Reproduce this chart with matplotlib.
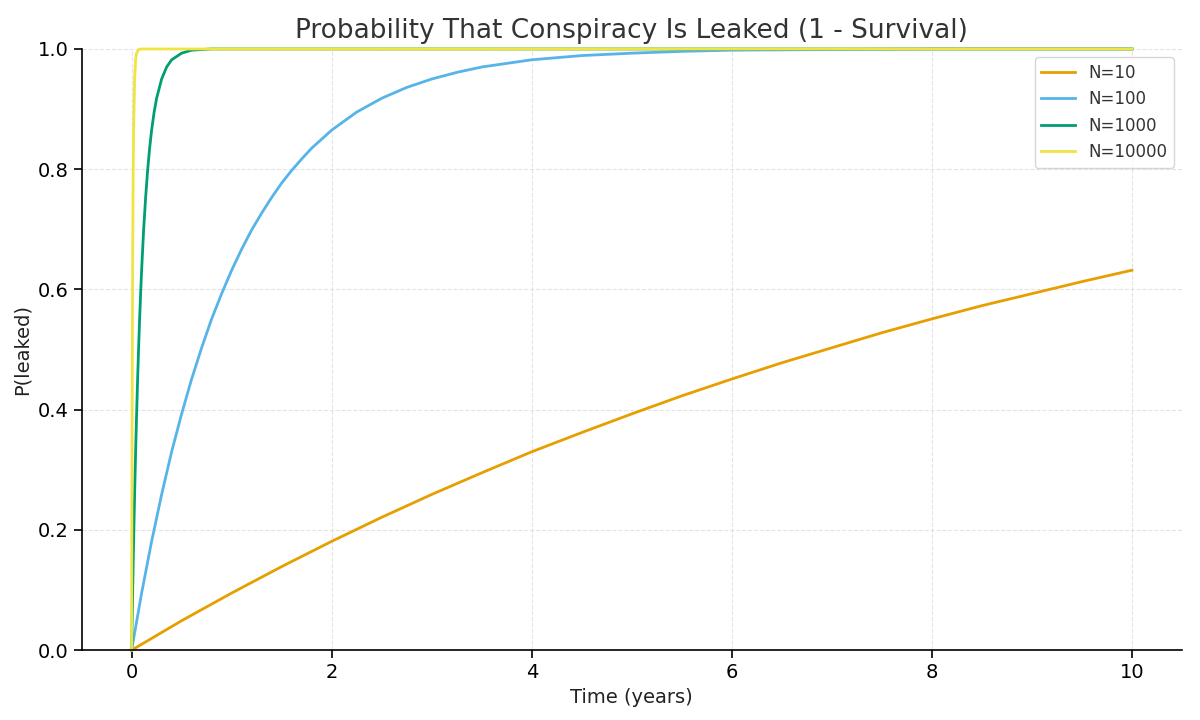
import matplotlib
matplotlib.use("Agg")
import matplotlib.pyplot as plt

# Valores (tempo em anos, P(vazou))
t_10 = [0, 0.5, 1, 1.5, 2, 2.5, 3, 3.5, 4, 4.5, 5, 5.5, 6, 6.5, 7, 7.5, 8, 8.5, 9, 9.5, 10]
p_10 = [0, 0.049, 0.095, 0.139, 0.181, 0.221, 0.259, 0.295, 0.330, 0.362, 0.393,
        0.423, 0.451, 0.478, 0.503, 0.528, 0.551, 0.573, 0.593, 0.613, 0.632]

t_100 = [0, 0.1, 0.2, 0.3, 0.4, 0.5, 0.6, 0.7, 0.8, 0.9, 1.0, 1.1, 1.2, 1.3, 1.4,
         1.5, 1.6, 1.7, 1.8, 1.9, 2.0, 2.25, 2.5, 2.75, 3.0, 3.25, 3.5, 3.75, 4.0,
         4.5, 5, 5.5, 6, 7, 8, 10]
p_100 = [0, 0.095, 0.181, 0.259, 0.330, 0.393, 0.451, 0.503, 0.551, 0.593, 0.632,
         0.667, 0.699, 0.727, 0.753, 0.777, 0.798, 0.817, 0.835, 0.850, 0.865,
         0.895, 0.918, 0.936, 0.950, 0.961, 0.970, 0.976, 0.982, 0.989, 0.993,
         0.996, 0.998, 0.999, 1.0, 1.0]

t_1000 = [0, 0.01, 0.02, 0.03, 0.04, 0.05, 0.06, 0.07, 0.08, 0.09, 0.1, 0.12, 0.14,
          0.16, 0.18, 0.2, 0.225, 0.25, 0.3, 0.35, 0.4, 0.5, 0.6, 0.8, 10]
p_1000 = [0, 0.095, 0.181, 0.259, 0.330, 0.393, 0.451, 0.503, 0.551, 0.593, 0.632,
          0.699, 0.753, 0.798, 0.835, 0.865, 0.895, 0.918, 0.950, 0.970, 0.982,
          0.993, 0.998, 1.0, 1.0]

t_10000 = [0, 0.001, 0.002, 0.003, 0.005, 0.007, 0.01, 0.015, 0.02, 0.03, 0.04,
           0.05, 0.07, 0.1, 10]
p_10000 = [0, 0.095, 0.181, 0.259, 0.393, 0.503, 0.632, 0.777, 0.865, 0.950, 0.982,
           0.993, 0.999, 1.0, 1.0]

labels = ["N=10", "N=100", "N=1000", "N=10000"]
cores = ["#E69F00", "#56B4E9", "#009E73", "#F0E442"]

fig = plt.figure(figsize=(12, 7.2), dpi=100)
ax = fig.add_axes([0.068, 0.097, 0.917, 0.835])

series = [(t_10, p_10), (t_100, p_100), (t_1000, p_1000), (t_10000, p_10000)]
for (t, p), lab, cor in zip(series, labels, cores):
    ax.plot(t, p, label=lab, color=cor, linewidth=2, clip_on=False)

ax.set_xlim(-0.5, 10.5)
ax.set_ylim(0, 1.0)
ax.set_title("Probability That Conspiracy Is Leaked (1 - Survival)",
             fontsize=19, color="#333333", pad=8)
ax.set_xlabel("Time (years)", fontsize=14, color="#222222")
ax.set_ylabel("P(leaked)", fontsize=14, color="#222222")
ax.tick_params(labelsize=14, length=6, width=1.2)
ax.grid(True, linestyle="--", color="#dddddd", linewidth=0.8, alpha=0.8)
ax.spines["top"].set_visible(False)
ax.spines["right"].set_visible(False)
for s in ("left", "bottom"):
    ax.spines[s].set_linewidth(1.2)
leg = ax.legend(loc="upper right", fontsize=12)
for txt in leg.get_texts():
    txt.set_color("#333333")

fig.savefig("out.png", dpi=100)
